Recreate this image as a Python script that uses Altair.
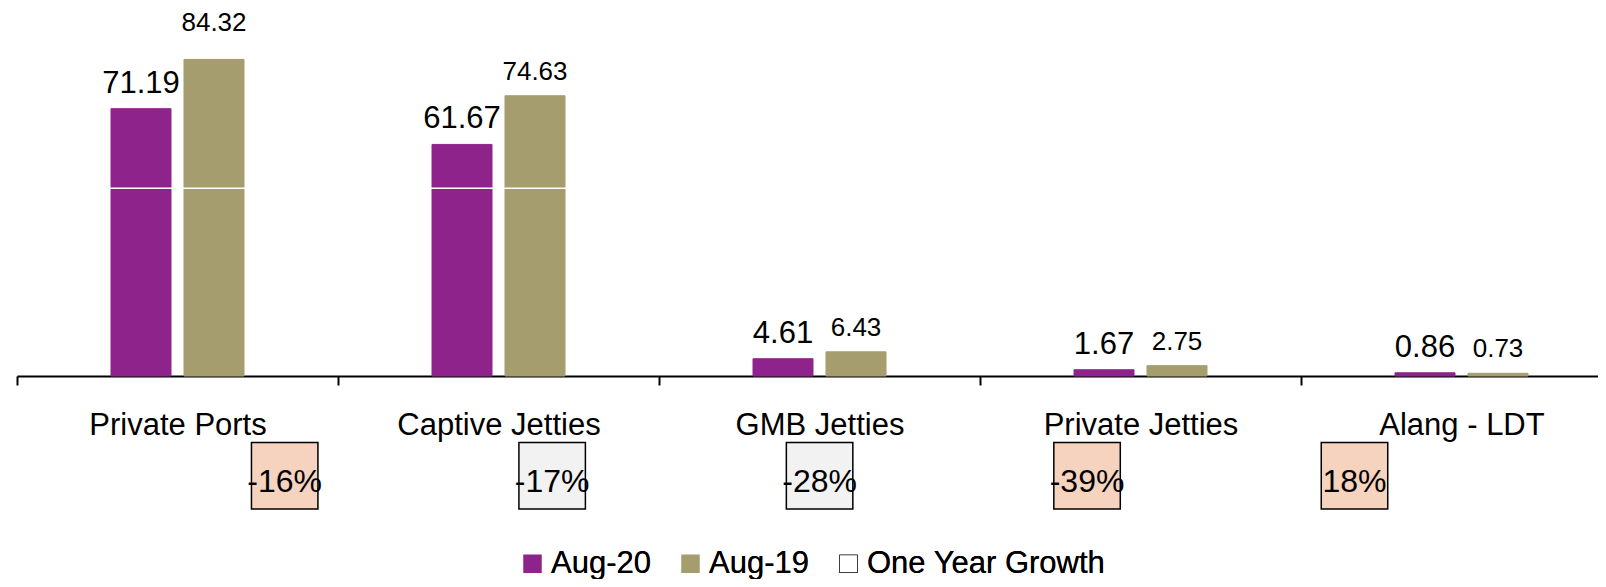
import altair as alt
import pandas as pd

categories = ["Private Ports", "Captive Jetties", "GMB Jetties", "Private Jetties", "Alang - LDT"]
aug20 = [71.19, 61.67, 4.61, 1.67, 0.86]
aug19 = [84.32, 74.63, 6.43, 2.75, 0.73]
growth_labels = ["-16%", "-17%", "-28%", "-39%", "18%"]
growth_shade = ["peach", "gray", "gray", "peach", "peach"]
series = ["Aug-20", "Aug-19"]
legend_items = ["Aug-20", "Aug-19", "One Year Growth"]
gridlines = [50]

rows = []
for c, a, b in zip(categories, aug20, aug19):
    rows.append({"category": c, "series": "Aug-20", "value": a})
    rows.append({"category": c, "series": "Aug-19", "value": b})
bars_df = pd.DataFrame(rows)
growth_df = pd.DataFrame({"category": categories, "label": growth_labels, "shade": growth_shade})
grid_df = pd.DataFrame({"value": gridlines})

FONT = "Liberation Sans"
PURPLE = "#8E248B"
OLIVE = "#A69D6E"
PEACH = "#F5D3BF"
GRAY = "#F2F2F2"

x_scale = alt.Scale(domain=categories, range=[0, 1605], paddingInner=0, paddingOuter=0)
xo_scale = alt.Scale(domain=series, range=[94, 227], paddingInner=0.178, paddingOuter=0)
y_scale = alt.Scale(domain=[0, 98], nice=False, zero=True)

x_axis = alt.Axis(title=None, labelAngle=0, labelFontSize=31, labelFont=FONT, labelColor="black",
                  labelPadding=25, tickSize=9, tickWidth=2, tickColor="black", domainColor="black",
                  domainWidth=2, tickBand="extent", grid=False, labelLimit=400, labelOverlap=False)

legend = alt.Legend(orient="none", legendX=500, legendY=540, direction="horizontal", title=None,
                    symbolType="square", symbolSize=289, labelFontSize=31, labelFont=FONT,
                    labelColor="black", columnPadding=24, labelOffset=3, padding=0,
                    symbolStrokeWidth=1.5, labelLimit=400, symbolOpacity=1)

X = alt.X("category:N", scale=x_scale, sort=categories, axis=x_axis)
XN = alt.X("category:N", scale=x_scale, sort=categories, axis=None)
XO = alt.XOffset("series:N", scale=xo_scale, sort=series)
YN = alt.Y("value:Q", scale=y_scale, axis=None)

base = alt.Chart(bars_df)
bars = base.mark_bar(strokeWidth=1).encode(
    x=X, xOffset=XO, y=YN,
    fill=alt.Fill("series:N", scale=alt.Scale(domain=legend_items, range=[PURPLE, OLIVE, "white"]), legend=legend),
    stroke=alt.Stroke("series:N", scale=alt.Scale(domain=legend_items, range=[PURPLE, OLIVE, "black"]), legend=legend),
)

grid = alt.Chart(grid_df).mark_rule(color="white", strokeWidth=1.5).encode(y=YN)

lab20 = base.transform_filter(alt.datum.series == "Aug-20").mark_text(
    fontSize=31, font=FONT, baseline="alphabetic", dy=-16, color="black"
).encode(x=XN, xOffset=XO, y=YN, text=alt.Text("value:Q", format=".2f"))

lab19 = base.transform_filter(
    (alt.datum.series == "Aug-19") & (alt.datum.category != "Private Ports")
).mark_text(
    fontSize=26, font=FONT, baseline="alphabetic", dy=-16, color="black"
).encode(x=XN, xOffset=XO, y=YN, text=alt.Text("value:Q", format=".2f"))

lab19_top = base.transform_filter(
    (alt.datum.series == "Aug-19") & (alt.datum.category == "Private Ports")
).mark_text(
    fontSize=26, font=FONT, baseline="alphabetic", dy=-28, color="black"
).encode(x=XN, xOffset=XO, y=YN, text=alt.Text("value:Q", format=".2f"))

box_x = alt.X("category:N", sort=categories,
              scale=alt.Scale(type="point", domain=categories, range=[267.7, 1337.5], padding=0),
              axis=None)
boxes = alt.Chart(growth_df).mark_square(size=4420, opacity=1, filled=True, stroke="black",
                                         strokeWidth=1.5).encode(
    x=box_x, y=alt.value(467.8),
    fill=alt.Fill("shade:N", scale=alt.Scale(domain=["peach", "gray"], range=[PEACH, GRAY]), legend=None),
)
box_text = alt.Chart(growth_df).mark_text(fontSize=32, font=FONT, baseline="alphabetic", color="black").encode(
    x=box_x, y=alt.value(484), text="label:N"
)

chart = alt.layer(bars, grid, lab20, lab19, lab19_top, boxes, box_text).resolve_scale(
    x="independent", fill="independent"
).properties(
    width=1581, height=368, autosize="none",
    padding={"left": 9, "top": 0, "right": 0, "bottom": 203},
).configure_view(stroke=None)

chart.save("out.html", embed_options={"renderer": "svg", "actions": False})
